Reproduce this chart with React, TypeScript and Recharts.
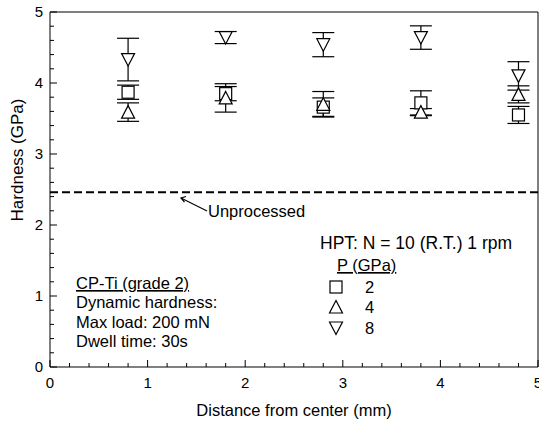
import { ScatterChart, Scatter, XAxis, YAxis, ErrorBar, ReferenceLine } from "recharts";

const positions = [0.8, 1.8, 2.8, 3.8, 4.8];
const hardness2 = [3.87, 3.85, 3.66, 3.72, 3.55];
const error2 = [0.1, 0.1, 0.13, 0.17, 0.12];
const hardness4 = [3.59, 3.79, 3.7, 3.59, 3.84];
const error4 = [0.13, 0.2, 0.18, 0.05, 0.12];
const hardness8 = [4.33, 4.64, 4.54, 4.64, 4.1];
const error8 = [0.3, 0.085, 0.17, 0.165, 0.2];
const unprocessed = 2.46;

const tickValues = [
  0, 0.2, 0.4, 0.6, 0.8, 1, 1.2, 1.4, 1.6, 1.8, 2, 2.2, 2.4, 2.6, 2.8, 3, 3.2, 3.4, 3.6, 3.8, 4,
  4.2, 4.4, 4.6, 4.8, 5,
];
const majorLabels = ["0", "1", "2", "3", "4", "5"];

const FONT = "'Liberation Sans', Arial, Helvetica, sans-serif";
const INK = "#000";

const toRows = (ys: number[], errs: number[]) =>
  positions.map((x, i) => ({ x, y: ys[i], err: errs[i] }));

const isMajor = (v: number) => Math.abs(v - Math.round(v)) < 1e-6;

const BottomTick = (p: any) => {
  const v = p.payload.value;
  const major = isMajor(v);
  return (
    <g>
      <line x1={p.x} x2={p.x} y1={p.y} y2={p.y - (major ? 7 : 4)} stroke={INK} />
      {major && (
        <text x={p.x} y={p.y + 21} textAnchor="middle" fontSize={15} fontFamily={FONT} fill={INK}>
          {majorLabels[Math.round(v)]}
        </text>
      )}
    </g>
  );
};

const TopTick = (p: any) => {
  const major = isMajor(p.payload.value);
  return <line x1={p.x} x2={p.x} y1={p.y} y2={p.y + (major ? 7 : 4)} stroke={INK} />;
};

const LeftTick = (p: any) => {
  const v = p.payload.value;
  const major = isMajor(v);
  return (
    <g>
      <line x1={p.x} x2={p.x + (major ? 7 : 4)} y1={p.y} y2={p.y} stroke={INK} />
      {major && (
        <text x={p.x - 7} y={p.y + 5} textAnchor="end" fontSize={15} fontFamily={FONT} fill={INK}>
          {majorLabels[Math.round(v)]}
        </text>
      )}
    </g>
  );
};

const RightTick = (p: any) => {
  const major = isMajor(p.payload.value);
  return <line x1={p.x} x2={p.x - (major ? 7 : 4)} y1={p.y} y2={p.y} stroke={INK} />;
};

const Square = ({ cx, cy }: any) => (
  <rect x={cx - 6} y={cy - 6} width={12} height={12} fill="#fff" stroke={INK} strokeWidth={1.2} />
);
const TriUp = ({ cx, cy }: any) => (
  <path d={`M${cx},${cy - 6.5}L${cx + 6.5},${cy + 6}L${cx - 6.5},${cy + 6}Z`} fill="#fff" stroke={INK} strokeWidth={1.2} />
);
const TriDown = ({ cx, cy }: any) => (
  <path d={`M${cx - 6.5},${cy - 6}L${cx + 6.5},${cy - 6}L${cx},${cy + 6.5}Z`} fill="#fff" stroke={INK} strokeWidth={1.2} />
);

const Annotations = () => (
  <svg
    width={539}
    height={424}
    style={{ position: "absolute", left: 0, top: 0, pointerEvents: "none" }}
    fontFamily={FONT}
    fill={INK}
  >
    <text transform="translate(23,160) rotate(-90)" textAnchor="middle" fontSize={17}>
      Hardness (GPa)
    </text>
    <text x={294} y={416} textAnchor="middle" fontSize={16.5}>
      Distance from center (mm)
    </text>

    <line x1={207} y1={211} x2={181} y2={198} stroke={INK} strokeWidth={1.2} />
    <polyline points="186,196.5 181,198 184.5,202" fill="none" stroke={INK} strokeWidth={1.2} />
    <text x={208} y={217} fontSize={16.5}>
      Unprocessed
    </text>

    <text x={320} y={249} fontSize={17.5}>
      HPT: N = 10 (R.T.) 1 rpm
    </text>
    <text x={337} y={271} fontSize={16.5} style={{ textDecoration: "underline" }}>
      P (GPa)
    </text>
    <Square cx={336} cy={287} />
    <TriUp cx={336} cy={307} />
    <TriDown cx={336} cy={328} />
    <text x={365} y={293} fontSize={16.5}>2</text>
    <text x={365} y={313} fontSize={16.5}>4</text>
    <text x={365} y={334} fontSize={16.5}>8</text>

    <text x={76} y={289} fontSize={16.5} style={{ textDecoration: "underline" }}>
      CP-Ti (grade 2)
    </text>
    <text x={76} y={308} fontSize={16.5}>Dynamic hardness:</text>
    <text x={76} y={328} fontSize={16.5}>Max load: 200 mN</text>
    <text x={76} y={347} fontSize={16.5}>Dwell time: 30s</text>
  </svg>
);

export default function App() {
  return (
    <div style={{ position: "absolute", left: 0, top: 0, width: 539, height: 424, background: "#fff" }}>
      <ScatterChart width={539} height={424} margin={{ top: 11, right: 0, bottom: 0, left: 0 }}>
        <XAxis
          xAxisId="bottom"
          type="number"
          dataKey="x"
          domain={[0, 5]}
          ticks={tickValues}
          interval={0}
          height={57}
          tickSize={0}
          tickMargin={0}
          tickLine={false}
          axisLine={{ stroke: INK }}
          tick={BottomTick}
        />
        <XAxis
          xAxisId="top"
          orientation="top"
          type="number"
          domain={[0, 5]}
          ticks={tickValues}
          interval={0}
          height={1}
          tickSize={0}
          tickMargin={0}
          tickLine={false}
          axisLine={{ stroke: INK }}
          tick={TopTick}
        />
        <YAxis
          yAxisId="left"
          type="number"
          dataKey="y"
          domain={[0, 5]}
          ticks={tickValues}
          interval={0}
          width={50}
          tickSize={0}
          tickMargin={0}
          tickLine={false}
          axisLine={{ stroke: INK }}
          tick={LeftTick}
        />
        <YAxis
          yAxisId="right"
          orientation="right"
          type="number"
          domain={[0, 5]}
          ticks={tickValues}
          interval={0}
          width={1}
          tickSize={0}
          tickMargin={0}
          tickLine={false}
          axisLine={{ stroke: INK }}
          tick={RightTick}
        />
        <ReferenceLine
          xAxisId="bottom"
          yAxisId="left"
          y={unprocessed}
          stroke={INK}
          strokeWidth={2}
          strokeDasharray="8 4"
        />
        <Scatter xAxisId="bottom" yAxisId="left" data={toRows(hardness2, error2)} shape={Square} isAnimationActive={false}>
          <ErrorBar dataKey="err" direction="y" width={11} stroke={INK} strokeWidth={1.2} isAnimationActive={false} />
        </Scatter>
        <Scatter xAxisId="bottom" yAxisId="left" data={toRows(hardness4, error4)} shape={TriUp} isAnimationActive={false}>
          <ErrorBar dataKey="err" direction="y" width={11} stroke={INK} strokeWidth={1.2} isAnimationActive={false} />
        </Scatter>
        <Scatter xAxisId="bottom" yAxisId="left" data={toRows(hardness8, error8)} shape={TriDown} isAnimationActive={false}>
          <ErrorBar dataKey="err" direction="y" width={11} stroke={INK} strokeWidth={1.2} isAnimationActive={false} />
        </Scatter>
      </ScatterChart>
      <Annotations />
    </div>
  );
}
